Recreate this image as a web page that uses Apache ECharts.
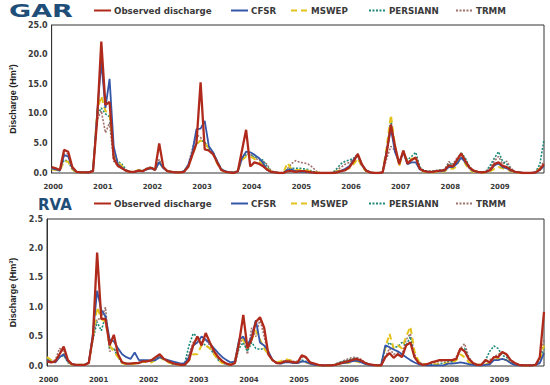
<!DOCTYPE html>
<html>
<head>
<meta charset="utf-8">
<script src="https://cdn.jsdelivr.net/npm/echarts@6/dist/echarts.min.js"></script>
<style>
html,body{margin:0;padding:0;background:#fff;}
#chart{width:550px;height:385px;}
</style>
</head>
<body>
<div id="chart"></div>
<script>
// ---- Data ----
const years = ['2000','2001','2002','2003','2004','2005','2006','2007','2008','2009'];
const monthNames = ['01','02','03','04','05','06','07','08','09','10','11','12'];
const seriesNames = ['Observed discharge','CFSR','MSWEP','PERSIANN','TRMM'];

// GAR (Hm3), monthly 2000-01 .. 2009-12
const garObs = [
 1.0,0.8,0.5,3.9,3.6,1.0,0.2,0.1,0.1,0.1,0.3,9.0,
 22.2,11.5,12.0,2.5,1.2,0.8,0.4,0.2,0.2,0.4,0.3,0.7,
 0.9,0.5,5.0,1.0,0.3,0.2,0.1,0.1,0.2,1.0,3.0,5.0,
 15.3,4.0,3.8,3.2,1.8,0.5,0.2,0.1,0.0,0.3,3.8,7.3,
 1.1,1.8,1.6,1.2,0.6,0.2,0.1,0.0,0.0,0.3,0.3,0.2,
 0.3,0.3,0.2,0.1,0.0,0.0,0.0,0.0,0.0,0.1,0.3,0.5,
 1.0,2.0,3.2,1.4,0.4,0.1,0.0,0.0,0.1,3.5,8.2,4.5,
 1.5,3.8,1.6,2.2,2.6,0.7,0.3,0.2,0.2,0.3,0.4,0.5,
 1.3,1.1,2.2,3.3,2.0,0.9,0.4,0.2,0.1,0.2,0.5,1.5,
 1.8,1.2,1.0,0.5,0.2,0.1,0.0,0.0,0.0,0.1,0.6,1.5];
const garCfsr = [
 0.8,0.6,0.4,3.0,2.8,0.8,0.2,0.1,0.1,0.1,0.4,10.0,
 18.8,11.0,15.9,4.5,1.5,0.9,0.4,0.2,0.2,0.4,0.3,0.6,
 0.8,0.5,1.8,0.8,0.3,0.2,0.1,0.1,0.3,1.3,3.5,7.4,
 7.5,8.8,4.5,3.5,2.0,0.6,0.3,0.1,0.1,0.3,2.5,3.6,
 3.5,3.1,2.6,1.8,0.6,0.2,0.1,0.0,0.0,0.5,0.6,0.3,
 0.2,0.2,0.1,0.1,0.0,0.0,0.0,0.0,0.0,0.2,0.4,0.7,
 1.2,2.3,3.1,1.3,0.4,0.1,0.0,0.0,0.1,3.8,7.5,3.5,
 1.8,3.5,1.5,1.8,1.8,0.6,0.3,0.2,0.2,0.3,0.3,0.4,
 1.0,1.0,1.6,2.6,1.8,0.8,0.3,0.2,0.1,0.2,0.5,1.3,
 1.6,1.0,0.8,0.4,0.2,0.1,0.0,0.0,0.0,0.1,0.5,1.2];
const garMswep = [
 0.6,0.5,0.4,2.0,1.9,0.6,0.1,0.1,0.1,0.1,0.4,10.5,
 13.0,10.5,10.0,3.8,1.8,1.2,0.4,0.2,0.2,0.5,0.3,0.7,
 0.9,0.6,1.8,0.8,0.3,0.2,0.1,0.1,0.3,1.2,3.0,4.8,
 5.5,5.0,4.2,3.3,1.6,0.5,0.2,0.1,0.1,0.3,2.2,2.8,
 2.8,2.4,2.0,1.5,0.8,0.3,0.1,0.0,0.0,1.7,0.6,0.5,
 0.5,0.5,0.4,0.2,0.1,0.0,0.0,0.0,0.1,0.3,0.5,0.6,
 0.8,1.5,2.5,1.0,0.3,0.1,0.0,0.0,0.2,4.5,9.8,4.5,
 1.2,3.6,1.8,2.4,2.5,0.6,0.2,0.1,0.1,0.2,0.2,0.3,
 0.8,0.7,1.2,3.3,1.5,0.5,0.2,0.1,0.1,0.1,0.3,0.7,
 1.0,0.8,0.6,0.3,0.1,0.0,0.0,0.0,0.0,0.1,0.8,1.0];
const garPersiann = [
 0.7,0.5,0.4,2.2,2.0,0.6,0.1,0.1,0.1,0.1,0.5,9.8,
 11.0,10.0,9.5,3.0,2.0,1.5,0.5,0.2,0.2,0.5,0.4,0.8,
 1.0,0.6,2.0,0.9,0.3,0.2,0.1,0.1,0.3,1.2,3.2,5.0,
 5.5,5.3,4.0,3.6,2.0,0.7,0.3,0.1,0.1,0.3,2.4,3.0,
 3.0,2.8,2.5,2.2,1.2,0.3,0.1,0.0,0.0,0.6,0.8,0.8,
 0.8,0.7,0.6,0.3,0.1,0.0,0.0,0.0,0.1,0.8,1.6,2.0,
 2.2,2.5,2.8,1.5,0.5,0.1,0.0,0.0,0.1,4.0,9.0,4.2,
 1.6,3.4,2.2,2.8,3.5,1.0,0.4,0.3,0.3,0.4,0.5,0.6,
 1.6,1.4,2.0,3.4,2.5,1.0,0.4,0.2,0.1,0.3,1.3,2.5,
 3.6,2.0,1.5,0.6,0.2,0.1,0.0,0.0,0.0,0.2,1.5,5.6];
const garTrmm = [
 0.8,0.6,0.5,3.3,3.2,0.9,0.2,0.1,0.1,0.1,0.3,9.0,
 10.5,6.8,8.5,2.0,1.2,0.8,0.3,0.2,0.2,0.4,0.3,0.7,
 0.9,0.6,2.3,0.9,0.3,0.2,0.1,0.1,0.3,1.4,4.0,6.5,
 6.0,5.0,4.3,3.5,1.9,0.6,0.2,0.1,0.1,0.3,2.6,3.2,
 3.2,2.6,2.2,2.0,1.5,0.4,0.1,0.0,0.0,0.7,1.6,2.1,
 1.8,1.7,1.5,1.0,0.3,0.0,0.0,0.0,0.1,0.5,1.0,1.5,
 1.8,2.4,3.3,1.5,0.5,0.1,0.0,0.0,0.1,2.5,4.5,3.8,
 1.5,3.8,1.8,2.3,2.4,0.7,0.4,0.3,0.3,0.4,0.5,0.6,
 1.9,1.5,2.6,3.2,2.3,1.0,0.4,0.2,0.1,0.3,0.9,2.0,
 2.8,1.5,2.0,0.8,0.2,0.1,0.0,0.0,0.0,0.2,0.9,2.0];

// RVA (Hm3), monthly 2000-01 .. 2009-12
const rvaObs = [
 0.08,0.06,0.08,0.20,0.33,0.10,0.03,0.02,0.02,0.02,0.05,0.50,
 1.93,0.80,0.80,0.35,0.53,0.20,0.06,0.04,0.04,0.05,0.05,0.08,
 0.08,0.10,0.15,0.20,0.12,0.08,0.05,0.03,0.02,0.02,0.10,0.35,
 0.50,0.35,0.56,0.40,0.25,0.15,0.08,0.04,0.02,0.05,0.40,0.87,
 0.30,0.45,0.75,0.83,0.65,0.20,0.10,0.05,0.05,0.08,0.08,0.06,
 0.06,0.18,0.15,0.06,0.04,0.02,0.01,0.01,0.01,0.02,0.04,0.06,
 0.08,0.10,0.12,0.10,0.06,0.03,0.02,0.01,0.01,0.15,0.22,0.14,
 0.20,0.15,0.35,0.40,0.15,0.05,0.02,0.03,0.06,0.08,0.10,0.10,
 0.10,0.10,0.12,0.30,0.25,0.12,0.05,0.02,0.02,0.10,0.06,0.15,
 0.15,0.24,0.20,0.10,0.05,0.02,0.01,0.01,0.01,0.02,0.15,0.92];
const rvaCfsr = [
 0.10,0.07,0.06,0.15,0.20,0.08,0.03,0.02,0.02,0.02,0.06,0.55,
 1.28,0.95,0.85,0.45,0.42,0.30,0.20,0.15,0.12,0.23,0.10,0.10,
 0.10,0.09,0.10,0.15,0.12,0.10,0.08,0.06,0.04,0.05,0.15,0.35,
 0.40,0.50,0.45,0.38,0.30,0.22,0.15,0.10,0.06,0.08,0.45,0.50,
 0.35,0.50,0.78,0.40,0.35,0.25,0.10,0.05,0.04,0.06,0.06,0.05,
 0.05,0.08,0.07,0.04,0.02,0.01,0.01,0.01,0.01,0.02,0.04,0.05,
 0.06,0.08,0.09,0.07,0.04,0.02,0.01,0.01,0.02,0.35,0.32,0.28,
 0.25,0.20,0.15,0.10,0.06,0.03,0.02,0.01,0.01,0.01,0.01,0.01,
 0.04,0.04,0.05,0.06,0.05,0.03,0.02,0.01,0.01,0.02,0.03,0.10,
 0.10,0.12,0.10,0.05,0.02,0.01,0.01,0.01,0.01,0.02,0.05,0.22];
const rvaMswep = [
 0.15,0.10,0.08,0.18,0.20,0.07,0.02,0.02,0.02,0.02,0.05,0.50,
 1.00,0.80,0.75,0.35,0.25,0.15,0.05,0.03,0.03,0.04,0.05,0.07,
 0.06,0.06,0.10,0.15,0.10,0.06,0.04,0.02,0.02,0.03,0.10,0.20,
 0.20,0.35,0.35,0.30,0.20,0.10,0.05,0.03,0.02,0.10,0.40,0.45,
 0.30,0.45,0.60,0.45,0.30,0.20,0.10,0.06,0.08,0.12,0.10,0.08,
 0.06,0.07,0.06,0.04,0.02,0.01,0.01,0.01,0.01,0.02,0.03,0.05,
 0.05,0.07,0.08,0.06,0.04,0.02,0.01,0.01,0.01,0.30,0.55,0.30,
 0.35,0.30,0.50,0.67,0.25,0.08,0.04,0.03,0.03,0.03,0.03,0.04,
 0.05,0.05,0.10,0.20,0.15,0.06,0.03,0.02,0.02,0.03,0.05,0.10,
 0.12,0.12,0.10,0.06,0.03,0.01,0.01,0.01,0.01,0.02,0.10,0.35];
const rvaPersiann = [
 0.12,0.08,0.07,0.15,0.18,0.06,0.02,0.02,0.02,0.02,0.05,0.45,
 0.75,0.60,0.85,0.30,0.30,0.15,0.05,0.04,0.04,0.05,0.06,0.08,
 0.08,0.08,0.12,0.17,0.12,0.07,0.04,0.03,0.02,0.05,0.35,0.55,
 0.50,0.40,0.35,0.30,0.20,0.10,0.05,0.03,0.02,0.05,0.30,0.40,
 0.25,0.40,0.30,0.28,0.30,0.20,0.10,0.05,0.05,0.08,0.08,0.06,
 0.07,0.10,0.08,0.05,0.03,0.01,0.01,0.01,0.01,0.03,0.06,0.08,
 0.10,0.12,0.13,0.10,0.06,0.03,0.02,0.01,0.01,0.30,0.40,0.32,
 0.33,0.40,0.35,0.50,0.15,0.05,0.03,0.02,0.02,0.03,0.04,0.05,
 0.08,0.07,0.12,0.28,0.30,0.12,0.04,0.02,0.02,0.10,0.25,0.34,
 0.30,0.18,0.15,0.08,0.04,0.02,0.01,0.01,0.01,0.02,0.10,0.30];
const rvaTrmm = [
 0.10,0.08,0.10,0.30,0.25,0.08,0.03,0.02,0.02,0.02,0.05,0.50,
 0.80,0.80,1.00,0.25,0.30,0.18,0.06,0.04,0.04,0.05,0.06,0.09,
 0.08,0.08,0.12,0.18,0.12,0.07,0.04,0.03,0.02,0.04,0.20,0.40,
 0.45,0.40,0.45,0.35,0.22,0.12,0.06,0.03,0.02,0.05,0.35,0.50,
 0.20,0.65,0.50,0.80,0.50,0.20,0.10,0.05,0.06,0.10,0.10,0.08,
 0.08,0.15,0.14,0.06,0.03,0.01,0.01,0.01,0.01,0.03,0.06,0.09,
 0.12,0.14,0.15,0.12,0.07,0.03,0.02,0.01,0.01,0.15,0.30,0.20,
 0.22,0.20,0.45,0.55,0.20,0.06,0.03,0.03,0.04,0.06,0.08,0.09,
 0.09,0.08,0.15,0.30,0.38,0.15,0.05,0.02,0.02,0.08,0.10,0.15,
 0.20,0.22,0.20,0.10,0.05,0.02,0.01,0.01,0.01,0.02,0.12,0.45];

const garTicks = [0, 25, 5];
const rvaTicks = [0, 2.5, 0.5];

// ---- Build ----
const categories = [];
years.forEach(y => monthNames.forEach(m => categories.push(y + '-' + m)));

const styles = {
  'Observed discharge': {color:'#B02A1C', width:2.3, type:'solid', z:6},
  'CFSR':     {color:'#3556A8', width:1.8, type:'solid', z:5},
  'MSWEP':    {color:'#E3C31B', width:2.0, type:[6,4], z:4},
  'PERSIANN': {color:'#1E8A78', width:1.6, type:[2,1.5], z:3},
  'TRMM':     {color:'#A0706C', width:1.6, type:[2,1.5], z:2}
};
const garData = [garObs, garCfsr, garMswep, garPersiann, garTrmm];
const rvaData = [rvaObs, rvaCfsr, rvaMswep, rvaPersiann, rvaTrmm];

const series = [];
function addPanel(dataArr, idx) {
  seriesNames.forEach((n, i) => {
    const s = styles[n];
    series.push({
      name: n, type: 'line', xAxisIndex: idx, yAxisIndex: idx,
      data: dataArr[i], symbol: 'none', z: s.z,
      lineStyle: {color: s.color, width: s.width, type: s.type},
      itemStyle: {color: s.color}
    });
  });
}
addPanel(garData, 0);
addPanel(rvaData, 1);

const legendX = [93, 230, 290, 368, 455];
const legends = [];
[6, 199].forEach(top => {
  seriesNames.forEach((n, i) => {
    legends.push({
      data: [n], left: legendX[i], top: top, itemWidth: 17, itemHeight: 8, itemGap: 0,
      padding: 0, selectedMode: false,
      itemStyle: {opacity: 0, borderWidth: 0},
      textStyle: {fontFamily: 'DejaVu Sans', fontSize: 8.7, fontWeight: 'bold', color: '#3a3a3a', padding: [0,0,0,-2]}
    });
  });
});

const axisLabelStyle = {fontFamily: 'DejaVu Sans', fontWeight: 'bold', color: '#3a3a3a'};

function xAx(gi) {
  return {
    type: 'category', gridIndex: gi, data: categories, boundaryGap: false,
    axisLine: {show: false}, axisTick: {show: false}, splitLine: {show: false},
    axisLabel: Object.assign({interval: 11, fontSize: 7, margin: 10, formatter: v => v.slice(0, 4), padding: [0,0,0,3]}, axisLabelStyle)
  };
}
function yAx(gi, t) {
  return {
    type: 'value', gridIndex: gi, min: t[0], max: t[1], interval: t[2],
    name: 'Discharge (Hm³)', nameLocation: 'middle', nameGap: 30, nameRotate: 90,
    nameTextStyle: {fontFamily: 'Liberation Sans Narrow, Liberation Sans', fontWeight: 'bold', fontSize: 9, color: '#222', padding: [0,0,0,0]},
    axisLine: {show: true, lineStyle: {color: '#333', width: 1}}, axisTick: {show: false}, splitLine: {show: false},
    axisLabel: Object.assign({fontSize: 8, margin: 4, formatter: v => v.toFixed(1)}, axisLabelStyle)
  };
}

const option = {
  animation: false,
  backgroundColor: '#ffffff',
  grid: [
    {left: 45, right: 6, top: 25, height: 148, show: true, borderColor: '#333', borderWidth: 1, containLabel: false},
    {left: 45, right: 6, top: 219, height: 147, show: true, borderColor: '#333', borderWidth: 1, containLabel: false}
  ],
  xAxis: [xAx(0), xAx(1)],
  yAxis: [yAx(0, garTicks), yAx(1, rvaTicks)],
  legend: legends,
  graphic: [
    {type: 'text', x: 9, y: 2, scaleX: 1.5, originX: 0, originY: 0,
     style: {text: 'GAR', fontFamily: 'DejaVu Sans', fontWeight: 'bold', fontSize: 18, fill: '#1F4E79', verticalAlign: 'top', textVerticalAlign: 'top'}},
    {type: 'text', x: 38, y: 197, originX: 0, originY: 0,
     style: {text: 'RVA', fontFamily: 'DejaVu Sans', fontWeight: 'bold', fontSize: 15, fill: '#1F4E79', verticalAlign: 'top', textVerticalAlign: 'top'}}
  ],
  series: series
};

const chart = echarts.init(document.getElementById('chart'), null, {renderer: 'svg', width: 550, height: 385});
chart.setOption(option);
</script>
</body>
</html>
